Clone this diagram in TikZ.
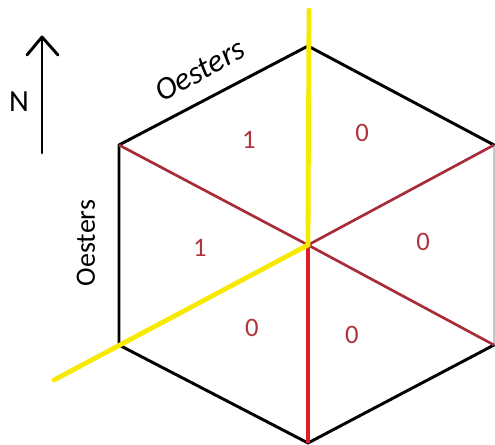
\documentclass[tikz,border=0pt]{standalone}
\usepackage{fontspec}
\setmainfont{Carlito}
\begin{document}
\begin{tikzpicture}[x=0.75pt,y=-0.75pt,
  edge/.style={line width=2.2pt,black,line cap=round,line join=round},
  divider/.style={line width=2pt,color={rgb,255:red,168;green,44;blue,56}},
  redline/.style={line width=3pt,color={rgb,255:red,226;green,30;blue,36}},
  yline/.style={line width=3.6pt,color={rgb,255:red,246;green,234;blue,0},line cap=round},
  num/.style={text={rgb,255:red,176;green,52;blue,60},font=\fontsize{20}{22}\selectfont,inner sep=0pt},
  lab/.style={font=\fontsize{21}{23}\selectfont,inner sep=0pt}]
\useasboundingbox (0,0) rectangle (495,445);
\coordinate (T) at (308,46);
\coordinate (UL) at (119,145);
\coordinate (LL) at (119,345);
\coordinate (B) at (308,443);
\coordinate (LR) at (494,345);
\coordinate (UR) at (494,145);
\coordinate (C) at (308,245);
\coordinate (YT) at (309,10);
\coordinate (YL) at (54,380);
% hexagon
\draw[edge] (UR) -- (T) -- (UL) -- (LL) -- (B) -- (LR);
\draw[line width=0.8pt,gray!45] (UR) -- (LR);
% dividers
\draw[divider] (UL) -- (C) -- (LR);
\draw[divider] (UR) -- (C);
\draw[redline] (C) -- (B);
\draw[yline] (YT) -- (C) -- (YL);
% north arrow
\coordinate (Na) at (42,153);
\coordinate (Nb) at (42,37);
\coordinate (Nl) at (27,55);
\coordinate (Nr) at (58,55);
\draw[edge] (Na) -- (Nb);
\draw[edge] (Nl) -- (Nb) -- (Nr);
\node[lab,font=\fontsize{23}{25}\selectfont] (N) at (19,102) {N};
% side labels
\node[lab,rotate=29,font=\fontsize{24}{26}\selectfont] (o1) at (200,70) {\itshape Oesters};
\node[lab,rotate=90] (o2) at (86,243) {Oesters};
% numbers
\node[num] (n1) at (249,140) {1};
\node[num] (n2) at (362,133) {0};
\node[num] (n3) at (200,248) {1};
\node[num] (n4) at (423,242) {0};
\node[num] (n5) at (252,328) {0};
\node[num] (n6) at (352,335) {0};
\end{tikzpicture}
\end{document}
